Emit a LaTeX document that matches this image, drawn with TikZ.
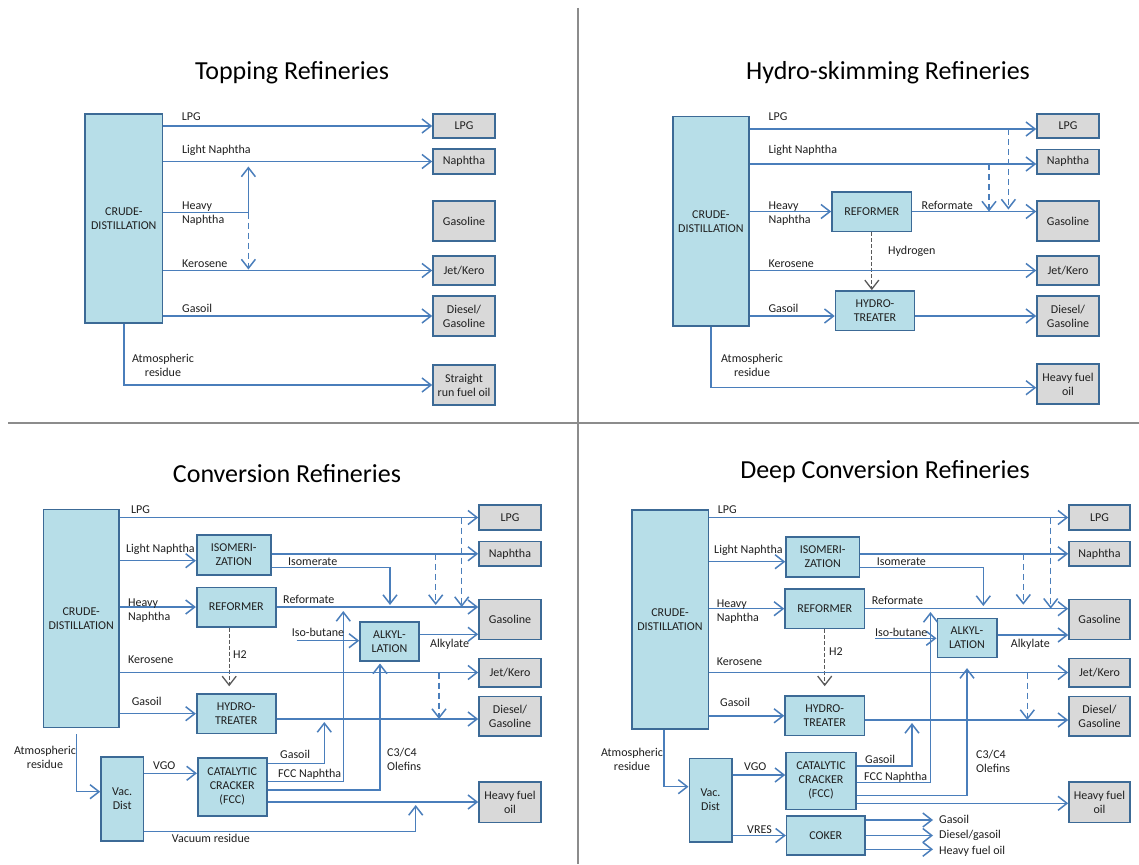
\documentclass[tikz,border=0pt]{standalone}
\usepackage{fontspec}
\setmainfont{Carlito}
\usepackage{xcolor}
\usepackage{tikz}
\usetikzlibrary{arrows.meta,calc}
\definecolor{flowblue}{HTML}{4A7EBB}
\definecolor{unitfill}{HTML}{B7DEE8}
\definecolor{prodfill}{HTML}{D9D9D9}
\definecolor{boxedge}{HTML}{3C6A96}
\definecolor{hgrey}{HTML}{595959}
\definecolor{divgrey}{HTML}{8C8C8C}
\definecolor{txt}{HTML}{1F1F1F}

\begin{document}
\begin{tikzpicture}[
    x=1pt, y=-1pt,
    >={Straight Barb[length=9pt,width=14pt]},
    unitbox/.style={draw=boxedge, line width=1.6pt, fill=unitfill, align=center, inner sep=0pt, text=txt, font=\fontsize{12}{14}\selectfont},
    prodbox/.style={unitbox, fill=prodfill},
    pipeline/.style={draw=flowblue, line width=1.5pt},
    streamline/.style={pipeline, ->},
    bypassline/.style={streamline, dash pattern=on 6pt off 4pt},
    hydrogenline/.style={draw=hgrey, line width=1.3pt, dash pattern=on 4pt off 2pt, ->},
    lbl/.style={anchor=west, inner sep=0pt, text=txt, font=\fontsize{12}{14}\selectfont, align=left},
    heading/.style={inner sep=0pt, text=black, font=\fontsize{26}{30}\selectfont}
]
\path[use as bounding box, fill=white] (0,0) rectangle (1139,864);
\draw[divgrey, line width=2pt] (578.3,8) -- (578.3,864);
\draw[divgrey, line width=2pt] (8,423.3) -- (1139,423.3);

% Topping
\node[heading] (ttitle) at (292,73) {Topping Refineries};
\node[unitbox, minimum width=77.6, minimum height=209] (tcrude) at (123.8,218.5) {CRUDE-\\DISTILLATION};
\node[prodbox, minimum width=62, minimum height=24] (tlpg) at (464,126) {LPG};
\node[prodbox, minimum width=62, minimum height=25] (tnaph) at (464,161.5) {Naphtha};
\node[prodbox, minimum width=62, minimum height=40] (tgasl) at (464,221) {Gasoline};
\node[prodbox, minimum width=62, minimum height=29] (tjet) at (464,270.5) {Jet/Kero};
\node[prodbox, minimum width=62, minimum height=40] (tdsl) at (464,316) {Diesel/\\Gasoline};
\node[prodbox, minimum width=62, minimum height=40] (tsrfo) at (464,385) {Straight\\run fuel oil};
\coordinate (thvy) at (248.4,212.7);
\draw[streamline] (tcrude.east |- tlpg.west) -- (tlpg.west);
\draw[streamline] (tcrude.east |- tnaph.west) -- (tnaph.west);
\draw[pipeline] (tcrude.east |- thvy) -- (thvy);
\draw[streamline] (thvy) -- ($(thvy |- tnaph.west)+(0,5)$);
\draw[bypassline] (thvy) -- ($(thvy |- tjet.west)+(0,-1)$);
\draw[streamline] (tcrude.east |- tjet.west) -- (tjet.west);
\draw[streamline] (tcrude.east |- tdsl.west) -- (tdsl.west);
\draw[streamline] (tcrude.south) |- (tsrfo.west);
\node[lbl] (tlpgl) at (181.6,116.7) {LPG};
\node[lbl] (tlnl) at (182,150) {Light Naphtha};
\node[lbl] (thnl) at (182,213.7) {Heavy\\Naphtha};
\node[lbl] (tkerl) at (182,263.3) {Kerosene};
\node[lbl] (tgol) at (182,308.3) {Gasoil};
\node[lbl, anchor=center, align=center] (tatml) at (163,365) {Atmospheric\\residue};

% Hydro-skimming
\node[heading] (htitle) at (888,73) {Hydro-skimming Refineries};
\node[unitbox, minimum width=76.3, minimum height=209.3] (hcrude) at (710.9,221.3) {CRUDE-\\DISTILLATION};
\node[unitbox, minimum width=79.6, minimum height=39.6] (hreform) at (871.8,211.5) {REFORMER};
\node[unitbox, minimum width=79, minimum height=39.7] (hhydro) at (875,310.8) {HYDRO-\\TREATER};
\node[prodbox, minimum width=62, minimum height=24] (hlpg) at (1068,126) {LPG};
\node[prodbox, minimum width=62, minimum height=24.7] (hnaph) at (1068,161.7) {Naphtha};
\node[prodbox, minimum width=62, minimum height=40] (hgasl) at (1068,221) {Gasoline};
\node[prodbox, minimum width=62, minimum height=29] (hjet) at (1068,270.5) {Jet/Kero};
\node[prodbox, minimum width=62, minimum height=40] (hdsl) at (1068,316) {Diesel/\\Gasoline};
\node[prodbox, minimum width=62, minimum height=40] (hhfo) at (1068,384) {Heavy fuel\\oil};
\coordinate (hlj) at (1008.4,129);
\coordinate (hnj) at (989,164);
\draw[streamline] (hcrude.east |- hlj) -- (hlpg.west |- hlj);
\draw[streamline] (hcrude.east |- hnj) -- (hnaph.west |- hnj);
\draw[streamline] (hcrude.east |- hreform.west) -- (hreform.west);
\draw[streamline] (hreform.east) -- (hgasl.west |- hreform.east);
\draw[bypassline] (hnj) -- (hnj |- hreform.east);
\draw[bypassline] (hlj) -- ($(hlj |- hreform.east)+(0,-2)$);
\draw[hydrogenline] (hreform.south) -- (hreform.south |- hhydro.north);
\draw[streamline] (hcrude.east |- hjet.west) -- (hjet.west);
\draw[streamline] (hcrude.east |- hdsl.west) -- (hhydro.west |- hdsl.west);
\draw[streamline] (hhydro.east |- hdsl.west) -- (hdsl.west);
\draw[streamline] (hcrude.south) |- (hhfo.west |- 0,387.7);
\node[lbl] (hlpgl) at (768.4,116.7) {LPG};
\node[lbl] (hlnl) at (768.4,150) {Light Naphtha};
\node[lbl] (hhnl) at (768.4,213.7) {Heavy\\Naphtha};
\node[lbl] (hrefl) at (921.5,205) {Reformate};
\node[lbl] (hh2l) at (888,251) {Hydrogen};
\node[lbl] (hkerl) at (768.4,263.3) {Kerosene};
\node[lbl] (hgol) at (768.4,308) {Gasoil};
\node[lbl, anchor=center, align=center] (hatml) at (752,365) {Atmospheric\\residue};

% Conversion
\node[heading] (ctitle) at (287,474) {Conversion Refineries};
\node[unitbox, minimum width=75.7, minimum height=218] (ccrude) at (81.2,618.3) {CRUDE-\\DISTILLATION};
\node[unitbox, minimum width=74, minimum height=40] (cisom) at (233.7,555) {ISOMERI-\\ZATION};
\node[unitbox, minimum width=79, minimum height=39.4] (creform) at (236.2,607) {REFORMER};
\node[unitbox, minimum width=79, minimum height=39.3] (chydro) at (236.2,713.7) {HYDRO-\\TREATER};
\node[unitbox, minimum width=59, minimum height=39] (calk) at (389.5,641.2) {ALKYL-\\LATION};
\node[unitbox, minimum width=42.3, minimum height=84] (cvac) at (122.2,798.7) {Vac.\\Dist};
\node[unitbox, minimum width=69, minimum height=58] (cfcc) at (232.2,786.7) {CATALYTIC\\CRACKER\\(FCC)};
\node[prodbox, minimum width=62, minimum height=25] (clpg) at (510,517.5) {LPG};
\node[prodbox, minimum width=62, minimum height=24.3] (cnaph) at (510,553.8) {Naphtha};
\node[prodbox, minimum width=62, minimum height=40] (cgasl) at (510,619.3) {Gasoline};
\node[prodbox, minimum width=62, minimum height=28.4] (cjet) at (510,672.5) {Jet/Kero};
\node[prodbox, minimum width=62, minimum height=39.3] (cdsl) at (510,716.3) {Diesel/\\Gasoline};
\node[prodbox, minimum width=62, minimum height=40.6] (chfo) at (510,802) {Heavy fuel\\oil};
\coordinate (clj) at (461.7,517.5);
\coordinate (cnj) at (435.7,553.8);
\coordinate (cisoj) at (390,605);
\coordinate (cibut) at (296.7,640.7);
\coordinate (ckj) at (439,672.5);
\coordinate (cgoj) at (324.3,722);
\coordinate (cfnj) at (343.3,611);
\coordinate (cvrj) at (415.7,805);
\draw[streamline] (ccrude.east |- clpg.west) -- (clpg.west);
\draw[streamline] (ccrude.east |- 0,560.7) -- (cisom.west |- 0,560.7);
\draw[streamline] (cisom.east |- cnaph.west) -- (cnaph.west);
\draw[streamline] (cisom.east |- 0,567.7) -| (cisoj);
\draw[streamline] (ccrude.east |- creform.west) -- (creform.west);
\draw[streamline] (creform.east) -- (cgasl.west |- creform.east);
\draw[bypassline] (cnj) -- ($(cnj |- creform.east)+(0,-2)$);
\draw[bypassline] (clj) -- (clj |- creform.east);
\draw[hydrogenline, shorten >=7pt] ([xshift=-7pt]creform.south) -- ([xshift=-7pt]creform.south |- chydro.north);
\draw[streamline] (cibut) -- (calk.west |- cibut);
\draw[streamline] (calk.east |- 0,634.3) -- (cgasl.west |- 0,634.3);
\draw[streamline] (ccrude.east |- cjet.west) -- (cjet.west);
\draw[bypassline] (ckj) -- (ckj |- 0,719);
\draw[streamline] (ccrude.east |- chydro.west) -- (chydro.west);
\draw[streamline] (chydro.east |- 0,719) -- (cdsl.west |- 0,719);
\draw[streamline] ([xshift=-4.5pt,yshift=-6pt]ccrude.south) |- (cvac.west |- 0,791.7);
\draw[streamline] (cvac.east |- 0,773.3) -- (cfcc.west |- 0,773.3);
\draw[streamline] (cfcc.east |- 0,763.3) -| (cgoj);
\draw[streamline] (cfcc.east |- 0,781.7) -| (cfnj);
\draw[streamline, shorten >=2pt] (cfcc.east |- 0,790) -| ([xshift=-9.5pt]calk.south);
\draw[streamline] (cfcc.east |- chfo.west) -- (chfo.west);
\draw[streamline] (cvac.east |- 0,831.7) -| (cvrj);
\node[lbl] (clpgl) at (131,509.3) {LPG};
\node[lbl] (clnl) at (126,549) {Light Naphtha};
\node[lbl] (chnl) at (128,610.8) {Heavy\\Naphtha};
\node[lbl] (ckerl) at (128,660) {Kerosene};
\node[lbl] (cgol) at (131.7,701.7) {Gasoil};
\node[lbl, anchor=center, align=center] (catml) at (45,757.8) {Atmospheric\\residue};
\node[lbl] (cvgol) at (153,766) {VGO};
\node[lbl] (cvrl) at (171.7,838) {Vacuum residue};
\node[lbl] (cisol) at (288,561.7) {Isomerate};
\node[lbl] (crefl) at (283,599.3) {Reformate};
\node[lbl] (ch2l) at (233,655) {H2};
\node[lbl] (cibl) at (291.7,632.7) {Iso-butane};
\node[lbl] (calkl) at (430,644) {Alkylate};
\node[lbl] (cfgol) at (280,754.3) {Gasoil};
\node[lbl] (cfnl) at (278,774.3) {FCC Naphtha};
\node[lbl] (colel) at (387,759.3) {C3/C4\\Olefins};

% Deep conversion
\node[heading] (dtitle) at (885,472) {Deep Conversion Refineries};
\node[unitbox, minimum width=76.6, minimum height=219] (dcrude) at (670,619.5) {CRUDE-\\DISTILLATION};
\node[unitbox, minimum width=73.3, minimum height=40] (disom) at (822.7,556.7) {ISOMERI-\\ZATION};
\node[unitbox, minimum width=79.3, minimum height=39.3] (dreform) at (824.7,608.7) {REFORMER};
\node[unitbox, minimum width=79.3, minimum height=39.7] (dhydro) at (824.7,715.8) {HYDRO-\\TREATER};
\node[unitbox, minimum width=59.4, minimum height=39] (dalk) at (967,637.8) {ALKYL-\\LATION};
\node[unitbox, minimum width=42.4, minimum height=83.4] (dvac) at (710.5,800) {Vac.\\Dist};
\node[unitbox, minimum width=70, minimum height=57] (dfcc) at (821,780.8) {CATALYTIC\\CRACKER\\(FCC)};
\node[unitbox, minimum width=78.3, minimum height=39] (dcoker) at (825.8,835.5) {COKER};
\node[prodbox, minimum width=61, minimum height=25] (dlpg) at (1099.5,517.5) {LPG};
\node[prodbox, minimum width=61, minimum height=24.3] (dnaph) at (1099.5,553.8) {Naphtha};
\node[prodbox, minimum width=61, minimum height=40] (dgasl) at (1099.5,619.3) {Gasoline};
\node[prodbox, minimum width=61, minimum height=28.4] (djet) at (1099.5,672.5) {Jet/Kero};
\node[prodbox, minimum width=61, minimum height=39.3] (ddsl) at (1099.5,716.3) {Diesel/\\Gasoline};
\node[prodbox, minimum width=61, minimum height=40.6] (dhfo) at (1099.5,802) {Heavy fuel\\oil};
\coordinate (dlj) at (1050.7,517.5);
\coordinate (dnj) at (1023.3,553.8);
\coordinate (disoj) at (983.3,606);
\coordinate (dibut) at (875,638.3);
\coordinate (dkj) at (1027.3,672.5);
\coordinate (dgoj) at (912,723);
\coordinate (dfnj) at (930.5,612);
\coordinate (dcgo) at (933,820);
\coordinate (dcdg) at (933,835.5);
\coordinate (dchf) at (933,849.3);
\draw[streamline] (dcrude.east |- dlpg.west) -- (dlpg.west);
\draw[streamline] (dcrude.east |- 0,561.7) -- (disom.west |- 0,561.7);
\draw[streamline] (disom.east |- dnaph.west) -- (dnaph.west);
\draw[streamline] (disom.east |- 0,567.7) -| (disoj);
\draw[streamline] (dcrude.east |- dreform.west) -- (dreform.west);
\draw[streamline] (dreform.east) -- (dgasl.west |- dreform.east);
\draw[bypassline] (dnj) -- ($(dnj |- dreform.east)+(0,-4)$);
\draw[bypassline] (dlj) -- (dlj |- dreform.east);
\draw[hydrogenline, shorten >=9pt] (dreform.south) -- (dreform.south |- dhydro.north);
\draw[streamline] (dibut) -- (dalk.west |- dibut);
\draw[streamline] (dalk.east |- 0,635) -- (dgasl.west |- 0,635);
\draw[streamline] (dcrude.east |- djet.west) -- (djet.west);
\draw[bypassline] (dkj) -- (dkj |- 0,720);
\draw[streamline] (dcrude.east |- dhydro.west) -- (dhydro.west);
\draw[streamline] (dhydro.east |- 0,720) -- (ddsl.west |- 0,720);
\draw[streamline] ([xshift=-6pt]dcrude.south) |- (dvac.west |- 0,786.7);
\draw[streamline] (dvac.east |- 0,775) -- (dfcc.west |- 0,775);
\draw[streamline] (dvac.east |- dcoker.west) -- (dcoker.west);
\draw[streamline] (dfcc.east |- 0,766) -| (dgoj);
\draw[streamline] (dfcc.east |- 0,782.7) -| (dfnj);
\draw[streamline, shorten >=10pt] (dfcc.east |- 0,795.5) -| (dalk.south);
\draw[streamline] (dfcc.east |- 0,803.3) -- (dhfo.west |- 0,803.3);
\draw[streamline] (dcoker.east |- dcgo) -- (dcgo);
\draw[streamline] (dcoker.east |- dcdg) -- (dcdg);
\draw[streamline] (dcoker.east |- dchf) -- (dchf);
\node[lbl] (dlpgl) at (717.7,509.3) {LPG};
\node[lbl] (dlnl) at (714,550.7) {Light Naphtha};
\node[lbl] (dhnl) at (716.7,611.7) {Heavy\\Naphtha};
\node[lbl] (dkerl) at (716.7,661.7) {Kerosene};
\node[lbl] (dgol) at (720,702.3) {Gasoil};
\node[lbl, anchor=center, align=center] (datml) at (632,759.3) {Atmospheric\\residue};
\node[lbl] (dvgol) at (744,766.7) {VGO};
\node[lbl] (dvrl) at (747,830) {VRES};
\node[lbl] (disol) at (876.7,561.7) {Isomerate};
\node[lbl] (drefl) at (871.7,600) {Reformate};
\node[lbl] (dh2l) at (829,651.7) {H2};
\node[lbl] (dibl) at (875,632.7) {Iso-butane};
\node[lbl] (dalkl) at (1010.7,644) {Alkylate};
\node[lbl] (dfgol) at (865,759) {Gasoil};
\node[lbl] (dfnl) at (864,777.3) {FCC Naphtha};
\node[lbl] (dolel) at (976,761.3) {C3/C4\\Olefins};
\node[lbl] (dcgol) at (939,819.3) {Gasoil};
\node[lbl] (dcdgl) at (939,835) {Diesel/gasoil};
\node[lbl] (dchfl) at (939,851) {Heavy fuel oil};
\end{tikzpicture}
\end{document}
